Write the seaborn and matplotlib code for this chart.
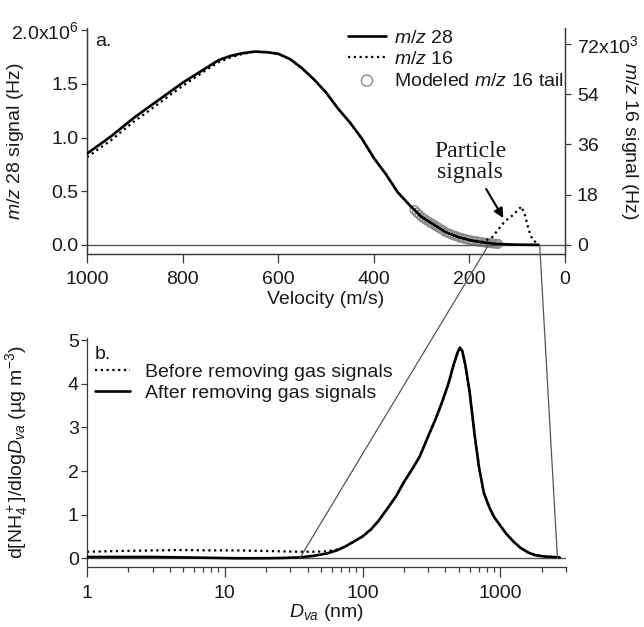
import numpy as np
import pandas as pd
import matplotlib
matplotlib.use("Agg")
import matplotlib.pyplot as plt
from matplotlib.patches import ConnectionPatch
from matplotlib.ticker import LogLocator, NullFormatter, FixedLocator
import seaborn as sns

# ---- panel a: signal vs. particle velocity ----
velocity = [1000, 975, 950, 925, 900, 875, 850, 825, 800, 775, 750, 725, 700, 675,
            650, 625, 600, 575, 550, 525, 500, 475, 450, 425, 400, 375, 350, 325,
            300, 275, 250, 225, 200, 175, 150, 125, 100, 75, 55]
mz28_1e6hz = [0.85, 0.93, 1.01, 1.10, 1.19, 1.27, 1.35, 1.43, 1.51, 1.58, 1.65, 1.72,
              1.76, 1.785, 1.80, 1.795, 1.78, 1.73, 1.645, 1.54, 1.42, 1.27, 1.14,
              0.99, 0.81, 0.66, 0.49, 0.37, 0.26, 0.19, 0.12, 0.075, 0.045, 0.025,
              0.012, 0.005, 0.002, 0.001, 0.0]

velocity_16 = [1000, 975, 950, 925, 900, 875, 850, 825, 800, 775, 750, 725, 700, 675,
               650, 625, 600, 575, 550, 525, 500, 475, 450, 425, 400, 375, 350, 325,
               300, 275, 250, 225, 200, 175, 154, 126, 108, 91, 83, 76, 68, 60, 55]
mz16_1e3hz = [31.4, 34.5, 37.5, 41.0, 44.5, 47.5, 50.7, 53.9, 57.0, 59.9, 62.8, 65.5,
              67.2, 68.5, 69.3, 69.1, 68.5, 66.6, 63.3, 59.3, 54.7, 48.9, 43.9, 38.1,
              31.2, 25.4, 18.9, 14.2, 10.0, 7.3, 4.6, 2.9, 1.7, 1.0, 2.4, 8.4, 10.8,
              13.8, 10.2, 5.4, 1.8, 0.8, 0.0]

velocity_tail = [315, 310, 305, 300, 295, 290, 285, 280, 275, 270, 265, 260, 255, 250,
                 245, 240, 235, 230, 225, 220, 215, 210, 205, 200, 195, 190, 185, 180,
                 175, 170, 165, 160, 155, 150, 145, 140]
tail_1e3hz = [12.5, 11.6, 10.8, 10.0, 9.4, 8.8, 8.3, 7.7, 7.3, 6.7, 6.2, 5.7, 5.2, 4.6,
              4.2, 3.85, 3.5, 3.2, 2.9, 2.6, 2.4, 2.15, 1.9, 1.7, 1.55, 1.4, 1.27, 1.12,
              0.96, 0.85, 0.73, 0.64, 0.55, 0.46, 0.38, 0.31]

left_ticks = [0.0, 0.5, 1.0, 1.5, 2.0]
left_ticklabels = ["0.0", "0.5", "1.0", "1.5", "2.0x10$^6$"]
right_ticks = [0, 18, 36, 54, 72]
right_ticklabels = ["0", "18", "36", "54", "72x10$^3$"]
velocity_ticks = [1000, 800, 600, 400, 200, 0]

# ---- panel b: size distribution ----
dva_nm = [1, 2, 3, 5, 8, 12, 18, 25, 35, 45, 55, 65, 75, 85, 100, 115, 130, 150, 175,
          200, 230, 260, 300, 340, 380, 420, 460, 490, 510, 530, 560, 600, 650, 700,
          760, 830, 900, 1000, 1100, 1250, 1400, 1600, 1800, 2100, 2400, 2700]
nh4_after = [0.03, 0.03, 0.03, 0.02, 0.01, 0.0, 0.0, 0.005, 0.02, 0.06, 0.11, 0.18,
             0.27, 0.37, 0.50, 0.66, 0.85, 1.12, 1.42, 1.75, 2.05, 2.33, 2.80, 3.20,
             3.60, 4.00, 4.45, 4.72, 4.83, 4.75, 4.40, 3.80, 2.85, 2.10, 1.50, 1.18,
             0.95, 0.75, 0.57, 0.38, 0.24, 0.13, 0.07, 0.04, 0.03, 0.02]
nh4_before = [0.15, 0.17, 0.18, 0.19, 0.18, 0.18, 0.17, 0.16, 0.15, 0.15, 0.16, 0.20,
              0.27, 0.37, 0.50, 0.66, 0.85, 1.12, 1.42, 1.75, 2.05, 2.33, 2.80, 3.20,
              3.60, 4.00, 4.45, 4.72, 4.83, 4.75, 4.40, 3.80, 2.85, 2.10, 1.50, 1.18,
              0.95, 0.75, 0.57, 0.38, 0.24, 0.13, 0.07, 0.04, 0.03, 0.02]
dva_ticks = [1, 10, 100, 1000]
dva_ticklabels = ["1", "10", "100", "1000"]
nh4_ticks = [0, 1, 2, 3, 4, 5]

# velocity <-> Dva correspondence of the particle window
window_velocity = [160, 53]
window_dva = [35, 2600]

sns.set_theme(style="ticks")
plt.rcParams.update({
    "font.family": ["Liberation Sans", "DejaVu Sans"],
    "font.size": 14,
    "mathtext.fontset": "custom",
    "mathtext.rm": "Liberation Sans",
    "mathtext.it": "Liberation Sans:italic",
    "mathtext.bf": "Liberation Sans:bold",
    "axes.edgecolor": "#3a3a3a",
    "axes.linewidth": 0.9,
    "xtick.color": "#3a3a3a",
    "ytick.color": "#3a3a3a",
    "xtick.labelcolor": "#1a1a1a",
    "ytick.labelcolor": "#1a1a1a",
    "axes.labelcolor": "#1a1a1a",
    "text.color": "#1a1a1a",
})

FS = 14
fig = plt.figure(figsize=(6.44, 6.27), dpi=100)
W, H = 644, 627
ax1 = fig.add_axes([87 / W, 1 - 254 / H, 478 / W, 226 / H])
ax2 = ax1.twinx()
ax3 = fig.add_axes([87 / W, 1 - 567 / H, 479 / W, 229 / H])

df28 = pd.DataFrame({"v": velocity, "s": mz28_1e6hz})
df16 = pd.DataFrame({"v": velocity_16, "s": mz16_1e3hz})
dftail = pd.DataFrame({"v": velocity_tail, "s": tail_1e3hz})

ax1.axhline(0, color="#555555", lw=1.0, zorder=1)
sns.lineplot(data=df28, x="v", y="s", ax=ax1, color="black", lw=1.9,
             sort=False, label="$m/z$ 28", legend=False, zorder=3)
sns.scatterplot(data=dftail, x="v", y="s", ax=ax2, marker="o", s=38,
                facecolor="none", edgecolor="#8a8a8a", linewidth=1.0,
                label="Modeled $m/z$ 16 tail", legend=False, zorder=2)
sns.lineplot(data=df16, x="v", y="s", ax=ax2, color="black", lw=1.6,
             linestyle=(0, (1, 1.6)), sort=False, label="$m/z$ 16",
             legend=False, zorder=4)

ax1.set_xlim(1000, 0)
ax1.set_ylim(-0.085, 2.02)
ax2.set_ylim(-3.3, 77.8)
ax1.set_xticks(velocity_ticks)
ax1.set_xticklabels([str(t) for t in velocity_ticks])
ax1.set_yticks(left_ticks)
ax1.set_yticklabels(left_ticklabels)
ax2.set_yticks(right_ticks)
ax2.set_yticklabels(right_ticklabels)
ax1.set_xlabel("Velocity (m/s)", fontsize=FS, labelpad=2)
ax1.set_ylabel("$m/z$ 28 signal (Hz)", fontsize=FS)
ax1.yaxis.set_label_coords(-0.128, 0.5)
ax2.set_ylabel("$m/z$ 16 signal (Hz)", fontsize=FS, rotation=270, va="center")
ax2.yaxis.set_label_coords(1.135, 0.5)
for a in (ax1, ax2):
    a.spines["top"].set_visible(False)
ax2.spines["right"].set_visible(True)
ax1.tick_params(axis="x", direction="out", length=6.5, width=0.9, labelsize=FS, pad=6)
ax1.tick_params(axis="y", direction="out", length=4, width=0.9, labelsize=FS, pad=2)
ax2.tick_params(axis="y", direction="out", length=4.5, width=0.9, labelsize=FS, pad=4)
ax1.set_zorder(ax2.get_zorder() + 1)
ax1.patch.set_visible(False)

ax1.text(0.018, 0.94, "a.", transform=ax1.transAxes, fontsize=FS, va="center", ha="left")

h1, l1 = ax1.get_legend_handles_labels()
h2, l2 = ax2.get_legend_handles_labels()
hd = dict(zip(l1 + l2, h1 + h2))
order = ["$m/z$ 28", "$m/z$ 16", "Modeled $m/z$ 16 tail"]
ax1.legend([hd[k] for k in order], order, loc="upper left",
           bbox_to_anchor=(0.546, 0.995), frameon=False, fontsize=FS,
           borderpad=0, borderaxespad=0, handlelength=1.95,
           handletextpad=0.4, labelspacing=0.2, markerscale=1.3)

ax1.annotate("Particle\nsignals", xy=(129, 0.25), xytext=(198, 0.77),
             textcoords="data", ha="center", va="center", fontsize=17,
             family=["Liberation Serif"], linespacing=1.0,
             arrowprops=dict(arrowstyle="-|>", color="black", lw=1.5,
                             mutation_scale=14, shrinkA=2, shrinkB=0))

# ---- panel b ----
dfb = pd.DataFrame({"d": dva_nm, "before": nh4_before, "after": nh4_after})
ax3.axhline(0, color="#555555", lw=1.0, zorder=1)
sns.lineplot(data=dfb, x="d", y="before", ax=ax3, color="black", lw=1.6,
             linestyle=(0, (1, 1.6)), label="Before removing gas signals",
             legend=False, zorder=2)
sns.lineplot(data=dfb, x="d", y="after", ax=ax3, color="black", lw=1.9,
             label="After removing gas signals", legend=False, zorder=3)
ax3.set_xscale("log")
ax3.set_xlim(1, 3000)
ax3.set_ylim(-0.2, 5.05)
ax3.xaxis.set_major_locator(FixedLocator(dva_ticks))
ax3.set_xticklabels(dva_ticklabels)
ax3.xaxis.set_minor_locator(LogLocator(base=10, subs=np.arange(2, 10), numticks=20))
ax3.xaxis.set_minor_formatter(NullFormatter())
ax3.set_yticks(nh4_ticks)
ax3.set_yticklabels([str(t) for t in nh4_ticks])
ax3.spines["top"].set_visible(False)
ax3.spines["right"].set_visible(False)
ax3.tick_params(axis="x", which="major", direction="out", length=7, width=0.9,
                labelsize=FS, pad=6)
ax3.tick_params(axis="x", which="minor", direction="out", length=3.5, width=0.9)
ax3.tick_params(axis="y", direction="out", length=4, width=0.9, labelsize=FS, pad=2)
ax3.set_xlabel("$D_{va}$ (nm)", fontsize=FS, labelpad=0)
ax3.set_ylabel("d[NH$_4^+$]/dlog$D_{va}$ (µg m$^{-3}$)", fontsize=FS)
ax3.yaxis.set_label_coords(-0.118, 0.5)
ax3.text(0.017, 0.926, "b.", transform=ax3.transAxes, fontsize=FS, va="center", ha="left")
ax3.legend(loc="upper left", bbox_to_anchor=(0.017, 0.89), frameon=False, fontsize=FS,
           borderpad=0, borderaxespad=0, handlelength=1.8, handletextpad=0.75,
           labelspacing=0.18)

# thin lines tying the particle window in velocity space to the Dva axis
for v, d in zip(window_velocity, window_dva):
    con = ConnectionPatch(xyA=(v, 0), coordsA=ax1.transData,
                          xyB=(d, 0), coordsB=ax3.transData,
                          color="#555555", lw=0.9, zorder=5)
    fig.add_artist(con)

fig.savefig("out.png", dpi=100)
